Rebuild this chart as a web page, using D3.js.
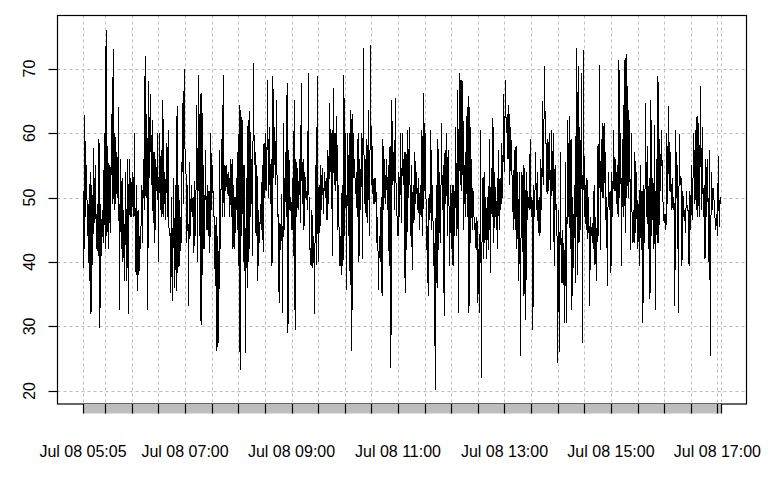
<!DOCTYPE html>
<html><head><meta charset="utf-8">
<script src="https://cdn.jsdelivr.net/npm/d3@7"></script>
<style>
body{margin:0;background:#fff}
svg{display:block}
text{font-family:"Liberation Sans",Arial,sans-serif;fill:#000}
</style>
</head><body>
<svg id="c" width="771" height="477"></svg>
<script>
// One reading per minute, starting Jul 08 05:05
const seg1 = [51,39, 62.8,47, 55,44, 49,37, 54,32, 52,39.5, 57.7,46, 55,42, 49,41, 59,29.8, 49,41, 48,43, 60,42, 76,44, 58,42, 55,44.5, 63,49, 73,48, 60,49, 57,50, 64,32.6, 56,42, 53,40, 48,37, 54,37, 56,32, 56,47, 53,47, 54,47, 60,38.5, 52,35.5, 48,38, 44,42, 52,43, 56,48, 72,50, 63,32.6, 68,53, 66,52, 62,46, 57,43, 56,51, 60,40];
const seg2 = [60,48, 57.4,47, 65.2,47, 54,46.5, 58.5,47, 60.5,44, 45,35.2, 50,34, 53,36, 52,35.5, 64.2,38.3, 52,39.4, 47,43, 64.6,49, 70,57, 54.5,43, 52,33.2, 55.5,44, 52,47, 50,41.4, 52.5,44, 64.4,40, 69,44, 66,30.3, 66.2,38, 55,42, 57.4,45, 52,44, 51,41.4, 60,48, 55,47, 47,36.3, 47,26.2, 44,27.5, 57.4,42, 59,47, 69,47, 55,51, 55,50.5, 54,47, 56,47, 56,42, 52,42, 50,48, 57,39.4];
const seg3 = [64.4,23.3, 63.6,44, 62,40, 55,25.9, 53,36, 62,40, 63.4,47, 56,41, 70.9,55, 57,44, 55,37, 48,43, 49,45, 55,41.5, 58.5,50, 60,51, 68.3,50, 61,49, 56,39.4, 68.8,53, 61,52, 65.2,47, 47.5,33.7, 46,41.9, 50.5,32.1, 61.5,45, 57,47, 67.8,29, 57.4,48, 50,45, 53,41, 65.2,29.5, 56,47, 54.5,48, 56,46, 67.8,49, 56,45, 54,50, 51,48, 69.3,41.9, 42,39.4, 48,39, 44,32, 55,39.5, 68.8,40];
const seg4 = [52,44.5, 55,48, 54.5,47.5, 54,50, 53,46.5, 57.4,49, 64.7,54, 60,41, 67,52, 60,51, 62.6,45, 52,39.4, 44,38, 52,39.4, 69,44, 60,35.7, 60,44, 60,36.5, 63.6,26.2, 63,53, 56,50.5, 54,47, 60,40, 56,48, 60,40.5, 73.2,49, 56,47, 59,46, 63.6,44, 73.7,52, 58,49, 53,49, 53,43, 47,35.7, 44,40, 50,34.7, 59,48, 56,49, 56,48, 55,39.4, 58,23.6, 65.2,52, 57,48, 65.5,48, 47,44, 54,47];
const seg5 = [60,46, 60,52, 57,35.2, 57,41.9, 60.5,50, 61,44, 55,38.8, 52,46, 57,49, 54,48, 53,45, 52,47, 60.5,44, 66.2,51, 60,41.9, 45.5,34.7, 50.5,46.5, 60.5,45, 52,39.4, 43,20.2, 52,36, 59,41.9, 54,43, 61.5,48, 55,31.6, 57.4,49, 60,44, 57.4,39.4, 52,42, 52,39.4, 52,44, 61,44, 66.7,32.1, 69.3,52, 68.3,51, 68,45, 55,47, 62.6,47, 65.8,32.1, 64,43, 56,45, 51,45, 46,41.9, 47,33.7, 42,32.1];
const seg6 = [60.5,22, 53,40.5, 54,43, 50,40.5, 50,41.9, 59,38.3, 54.5,47, 62.4,43, 54,47, 49.5,42, 57.4,45, 53,48, 58.5,50, 66,54, 68.3,60, 63,56, 64.4,52, 61,55, 52,45, 57.4,45, 58,42, 54,37, 54,25.4, 54,41.5, 55,34.7, 54.5,31, 54,46.5, 50,48, 59,47, 50,29.5, 52,47, 57,48, 54,44.5, 50,44, 56,48, 65,52, 70.4,60, 58,50.5, 59,51, 60,41.9, 60.5,51, 60,39.4, 55,48, 49,24.4, 48,26];
const seg7 = [57,36.8, 45,36.5, 43,30.6, 55.5,30.6, 62,47, 62.6,42, 59,32.6, 50,39, 52,36.8, 73.2,38, 70.4,43, 61,45, 69.3,27.5, 72.9,47, 52,45, 53,43.5, 50,33.2, 47,44, 46,42, 52,39.5, 47,37, 58,44, 70.6,41.9, 59,50, 61.5,50, 61.5,46.5, 50,36.3, 54,48, 51,38.3, 54,47, 60.5,51, 56,49, 55,47, 71.4,50, 60,39.4, 59,47, 71.4,44.5, 72.2,50, 67.3,50, 62,41.9, 60,43, 48,43, 57,44.5, 54,42, 49,39.4];
const seg8 = [55,41.9, 51,30.6, 52,43, 64.7,47, 58,42, 53,34.2, 65.2,44, 53,42, 61.3,32.6, 56,43, 68.8,43, 59,51, 60.5,52, 48,46, 47.5,45, 60,49, 64.2,51, 57,48, 53,48, 50,33.2, 60.5,50, 55,32.1, 59.8,52, 53,39.4, 51,47, 48,44.5, 51,48, 48,39.4, 51,45, 55,46.5, 60,49, 60.5,48, 62.6,47, 61.5,47, 67.3,48, 61,47, 52,40.5, 56,47, 56,40, 57.4,25.4, 54,48, 51.5,50, 47.5,45, 47.5,44, 56.5,45.5, 50,49];

const yTicks = [20, 30, 40, 50, 60, 70];
const xLabels = ["Jul 08 05:05", "Jul 08 07:00", "Jul 08 09:00", "Jul 08 11:00", "Jul 08 13:00", "Jul 08 15:00", "Jul 08 17:00"];
const labelTimes = ["05:05", "07:00", "09:00", "11:00", "13:00", "15:00", "17:00"];

const values = [].concat(seg1, seg2, seg3, seg4, seg5, seg6, seg7, seg8);
const t0 = new Date(2024, 6, 8, 5, 5);
const times = values.map((v, i) => d3.timeMinute.offset(t0, i));
const data = values.map((v, i) => ({t: times[i], v}));

const L = 57.5, R = 746.5, T = 15.5, B = 404;
const tExt = d3.extent(times), span = tExt[1] - tExt[0];
const x = d3.scaleTime()
  .domain([new Date(+tExt[0] - 0.04 * span), new Date(+tExt[1] + 0.04 * span)])
  .range([L, R]);
const vExt = d3.extent(values), vs = vExt[1] - vExt[0];
const y = d3.scaleLinear()
  .domain([vExt[0] - 0.04 * vs, vExt[1] + 0.04 * vs])
  .range([B, T]);

const svg = d3.select("#c");
svg.append("rect").attr("width", 771).attr("height", 477).attr("fill", "#fff");

const tickTimes = [tExt[0]].concat(d3.timeMinute.every(30).range(d3.timeMinute.offset(tExt[0], 1), tExt[1])).concat([tExt[1]]);
const snap = v => Math.round(v) + 0.5;

// grid
const grid = svg.append("g").attr("stroke", "#bebebe").attr("stroke-width", 1).attr("stroke-dasharray", "3,3").attr("fill", "none");
grid.selectAll("line.v").data(tickTimes).join("line").attr("class", "v")
  .attr("x1", d => snap(x(d))).attr("x2", d => snap(x(d))).attr("y1", T).attr("y2", B);
grid.selectAll("line.h").data(yTicks).join("line").attr("class", "h")
  .attr("x1", L).attr("x2", R).attr("y1", d => snap(y(d))).attr("y2", d => snap(y(d)));

// series
const line = d3.line().x(d => x(d.t)).y(d => y(d.v));
svg.append("path").datum(data).attr("d", line)
  .attr("fill", "none").attr("stroke", "#000").attr("stroke-width", 1)
  .attr("shape-rendering", "crispEdges");

// box
svg.append("rect").attr("x", L).attr("y", T).attr("width", R - L).attr("height", B - T)
  .attr("fill", "none").attr("stroke", "#000").attr("stroke-width", 1.2);

// y axis ticks & labels
const yAxis = svg.append("g");
yAxis.selectAll("line").data(yTicks).join("line")
  .attr("x1", L - 9).attr("x2", L).attr("y1", d => snap(y(d))).attr("y2", d => snap(y(d)))
  .attr("stroke", "#000").attr("stroke-width", 1.2);
yAxis.selectAll("text").data(yTicks).join("text")
  .attr("transform", d => `translate(35,${y(d)}) rotate(-90)`)
  .attr("text-anchor", "middle").attr("font-size", 16).text(d => d);

// x axis gray bar with ticks
const bar = svg.append("g");
bar.append("rect").attr("x", x(tExt[0])).attr("y", B).attr("width", x(tExt[1]) - x(tExt[0])).attr("height", 9.5)
  .attr("fill", "#bebebe");
bar.selectAll("line").data(tickTimes).join("line")
  .attr("x1", d => snap(x(d))).attr("x2", d => snap(x(d))).attr("y1", B).attr("y2", B + 9.5)
  .attr("stroke", "#000").attr("stroke-width", 1.2);

// x labels
const parseHM = s => { const [h, m] = s.split(":").map(Number); return new Date(2024, 6, 8, h, m); };
svg.append("g").selectAll("text").data(xLabels).join("text")
  .attr("x", (d, i) => x(parseHM(labelTimes[i])))
  .attr("y", 457).attr("text-anchor", "middle").attr("font-size", 16).text(d => d);
</script>
</body></html>
